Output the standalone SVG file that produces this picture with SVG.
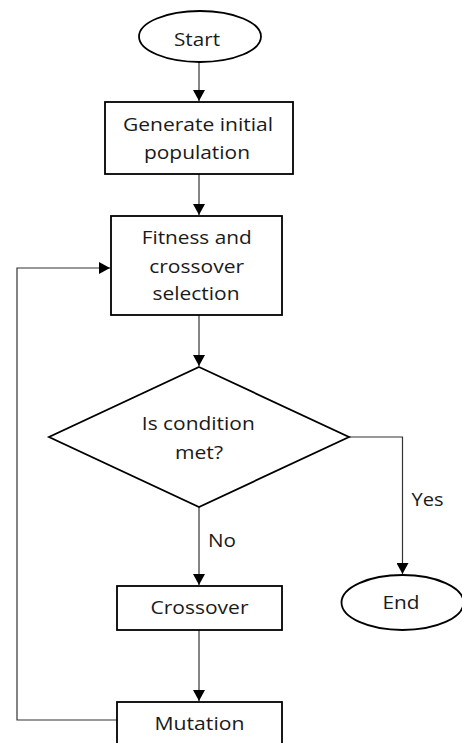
<svg xmlns="http://www.w3.org/2000/svg" width="462" height="743" viewBox="0 0 462 743">
<style>
.n{fill:#fff;stroke:#000;stroke-width:1.8}
.t{font-family:"Open Sans","Liberation Sans",sans-serif;font-size:18px;fill:#1a1a1a;text-anchor:middle}
.l{font-family:"Open Sans","Liberation Sans",sans-serif;font-size:18px;fill:#1a1a1a}
.c{fill:none;stroke:#333;stroke-width:1.2}
</style>
<defs>
<marker id="ah" markerUnits="userSpaceOnUse" markerWidth="12" markerHeight="12" viewBox="0 0 12 12" refX="11" refY="6" orient="auto">
<path d="M0,0 L11,6 L0,12 Z" fill="#000"/>
</marker>
</defs>
<g id="connectors">
<path class="c" d="M199,62 V101" marker-end="url(#ah)"/>
<path class="c" d="M199,174 V215" marker-end="url(#ah)"/>
<path class="c" d="M199,315 V366" marker-end="url(#ah)"/>
<path class="c" d="M199,507 V585" marker-end="url(#ah)"/>
<path class="c" d="M199,630 V701" marker-end="url(#ah)"/>
<path class="c" d="M349,437 H402.5 V574" marker-end="url(#ah)"/>
<path class="c" d="M117,720 H17 V268 H110" marker-end="url(#ah)"/>
<text class="l" x="208" y="547" textLength="28" lengthAdjust="spacingAndGlyphs">No</text>
<text class="l" x="411.5" y="506" textLength="32" lengthAdjust="spacingAndGlyphs">Yes</text>
</g>
<g id="start">
<ellipse class="n" cx="200" cy="36.5" rx="61" ry="25.5"/>
<text class="t" x="197" y="46" textLength="46" lengthAdjust="spacingAndGlyphs">Start</text>
</g>
<g id="generate">
<rect class="n" x="105" y="102" width="188" height="72"/>
<text class="t" x="198" y="131" textLength="150" lengthAdjust="spacingAndGlyphs">Generate initial</text>
<text class="t" x="197" y="159" textLength="106" lengthAdjust="spacingAndGlyphs">population</text>
</g>
<g id="fitness">
<rect class="n" x="111" y="216" width="171" height="99"/>
<text class="t" x="196.7" y="244" textLength="110" lengthAdjust="spacingAndGlyphs">Fitness and</text>
<text class="t" x="196.7" y="273" textLength="95" lengthAdjust="spacingAndGlyphs">crossover</text>
<text class="t" x="196" y="300" textLength="87" lengthAdjust="spacingAndGlyphs">selection</text>
</g>
<g id="condition">
<polygon class="n" points="199,367 349,437 199,507 49,437"/>
<text class="t" x="198.3" y="430" textLength="113" lengthAdjust="spacingAndGlyphs">Is condition</text>
<text class="t" x="199" y="459" textLength="48" lengthAdjust="spacingAndGlyphs">met?</text>
</g>
<g id="crossover">
<rect class="n" x="117" y="586" width="165" height="44"/>
<text class="t" x="199.5" y="614" textLength="98" lengthAdjust="spacingAndGlyphs">Crossover</text>
</g>
<g id="mutation">
<rect class="n" x="117" y="702" width="165" height="46"/>
<text class="t" x="199.5" y="730" textLength="90" lengthAdjust="spacingAndGlyphs">Mutation</text>
</g>
<g id="end">
<ellipse class="n" cx="402.5" cy="602.5" rx="61" ry="27.5"/>
<text class="t" x="401" y="609" textLength="37" lengthAdjust="spacingAndGlyphs">End</text>
</g>
</svg>
